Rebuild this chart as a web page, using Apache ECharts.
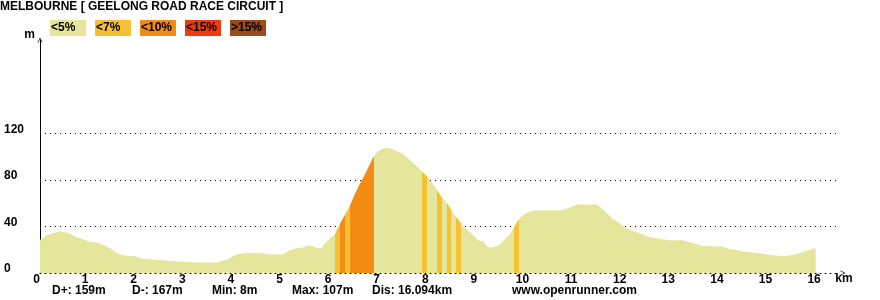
<!DOCTYPE html>
<html><head><meta charset="utf-8">
<script src="https://cdn.jsdelivr.net/npm/echarts@6/dist/echarts.min.js"></script>
<style>html,body{margin:0;padding:0;background:#fff}#c{width:880px;height:300px}</style>
</head><body><div id="c"></div>
<script>
const titleText = 'MELBOURNE [ GEELONG ROAD RACE CIRCUIT ]';
const legendLabels = ['<5%', '<7%', '<10%', '<15%', '>15%'];
const legendColors = ['#e5e59b', '#f5c133', '#f28c12', '#ee3a0e', '#9c4a1c'];
const distanceKm = [0,0.17,0.4,0.58,0.71,0.85,0.99,1.19,1.33,1.46,
  1.6,1.74,1.95,2.08,2.28,2.57,2.84,3.0,3.29,3.66,
  3.74,3.87,3.94,4.07,4.22,4.57,4.69,5.0,5.1,5.25,
  5.45,5.51,5.62,5.72,5.8,5.86,5.97,6.07,6.17,6.28,
  6.38,6.48,6.58,6.69,6.79,6.87,6.96,7.1,7.2,7.34,
  7.48,7.61,7.75,7.85,7.96,8.06,8.16,8.27,8.37,8.47,
  8.57,8.68,8.78,8.92,9.02,9.12,9.19,9.26,9.36,9.47,
  9.57,9.67,9.77,9.88,9.98,10.08,10.19,10.73,10.84,10.97,
  11.07,11.46,11.56,11.66,11.76,11.87,11.97,12.07,12.21,12.35,
  12.48,12.62,12.83,12.96,13.23,13.33,13.48,13.62,13.74,13.82,
  14.05,14.16,14.3,14.47,14.64,14.85,15.06,15.29,15.47,15.6,
  15.74,15.88,15.96];
const elevationM = [28,32.6,35.2,34.1,31.2,28.9,26.9,25.5,23.2,20.4,
  16.1,14.6,14,12,11.2,10.3,9.4,8.8,8.5,8.6,
  10,11.2,13.5,15.7,16.6,16.6,15.5,15.5,18.3,20.6,
  21.7,23.2,22.6,20.6,20.9,24.9,29.5,32.6,41.2,49.8,
  57,67,75.6,84.2,92.8,99.4,104.2,107.1,106.5,104.2,
  101.4,96.5,91.3,87,82.7,77,71.3,64.2,59.9,52.7,
  47,41.2,36.9,31.8,27.5,26.9,22.6,21.2,22.1,24,
  28.9,32.6,39.8,47,50.4,52.1,53.3,53.3,55,57,
  58.4,58.4,55,51.3,46.4,44.1,40.6,37.8,35.5,33.5,
  31.2,29.8,28.3,27.5,27.7,26.4,24.9,22.9,22.9,22.3,
  22.3,20.4,19.5,18,17.2,16.3,14.9,14,14.9,16.1,
  18.3,20,21.2];
// gradient bands (start km, end km, legend class index)
const bandStart = [6.07, 6.17, 6.28, 6.38, 7.85, 8.16, 8.37, 8.56, 9.75];
const bandEnd   = [6.17, 6.28, 6.38, 6.87, 7.96, 8.27, 8.46, 8.67, 9.86];
const bandClass = [1, 2, 1, 2, 1, 1, 1, 1, 1];
const gridLevels = [40, 80, 120];
const yLabelMax = 120;
const statsLabels = ['D+: 159m', 'D-: 167m', 'Min: 8m', 'Max: 107m', 'Dis: 16.094km', 'www.openrunner.com'];

const FONT = "'Liberation Sans', Arial, sans-serif";
const CHEVRON = 'path://M0,10L5,0L10,10L8.6,10L5,2.8L1.4,10Z';
const data = distanceKm.map((d, i) => [d, elevationM[i]]);
const pieces = bandStart.map((s, i) => ({gte: s, lt: bandEnd[i], color: legendColors[bandClass[i]]}));
const labelStyle = {fontFamily: FONT, fontSize: 12, fontWeight: 'bold', color: '#000'};

const graphic = [];
legendLabels.forEach((t, i) => {
  graphic.push({type: 'rect', left: 50 + 45 * i, top: 20, shape: {width: 36, height: 16}, style: {fill: legendColors[i]}});
  graphic.push({type: 'text', x: 51 + 45 * i, y: 28, style: {text: t, fill: '#000', font: 'bold 12px ' + FONT, align: 'left', verticalAlign: 'middle', textAlign: 'left', textVerticalAlign: 'middle'}});
});
statsLabels.forEach((t, i) => {
  const x = i < 5 ? 52 + 80 * i : 512;
  graphic.push({type: 'text', x: x, y: 291, style: {text: t, fill: '#000', font: 'bold 12px ' + FONT, align: 'left', verticalAlign: 'middle', textAlign: 'left', textVerticalAlign: 'middle'}});
});

const chart = echarts.init(document.getElementById('c'));
chart.setOption({
  animation: false,
  backgroundColor: '#fff',
  title: {text: titleText, left: 0, top: 1, padding: 0,
    textStyle: {fontFamily: FONT, fontSize: 12, fontWeight: 'bold', color: '#000', lineHeight: 12}},
  grid: {left: 40, right: 42, top: 40, bottom: 27, containLabel: false},
  xAxis: {
    type: 'value', min: 0, max: 16.42, interval: 1,
    axisLine: {show: true, onZero: true, lineStyle: {color: '#000', width: 1, type: [1, 4]},
      symbol: ['none', CHEVRON], symbolSize: [5, 7], symbolOffset: [0, 5]},
    axisTick: {show: false}, splitLine: {show: false},
    axisLabel: Object.assign({margin: 1, lineHeight: 11, verticalAlign: 'top', padding: [0, 7, 0, 0],
      formatter: v => Number.isInteger(v) ? String(v) : ''}, labelStyle),
    name: 'km', nameLocation: 'end', nameGap: 6,
    nameTextStyle: Object.assign({align: 'center', verticalAlign: 'top', lineHeight: 12}, labelStyle)
  },
  yAxis: {
    type: 'value', min: 0, max: 200, interval: 40,
    axisLine: {show: true, lineStyle: {color: '#000', width: 1}, symbol: ['none', CHEVRON], symbolSize: [5, 6]},
    axisTick: {show: false}, splitLine: {show: false},
    axisLabel: Object.assign({align: 'left', margin: 36, verticalAlign: 'bottom', lineHeight: 8,
      formatter: v => v <= yLabelMax ? String(v) : ''}, labelStyle),
    name: 'm', nameLocation: 'end', nameGap: 5,
    nameTextStyle: Object.assign({align: 'right', verticalAlign: 'middle', padding: [0, 5, 0, 0]}, labelStyle)
  },
  visualMap: {type: 'piecewise', show: false, dimension: 0, seriesIndex: 0, pieces: pieces,
    outOfRange: {color: legendColors[0]}},
  series: [{
    type: 'line', data: data, showSymbol: false, symbol: 'none', smooth: false,
    lineStyle: {width: 1}, areaStyle: {opacity: 1},
    markLine: {silent: true, z: 1, symbol: ['none', 'none'], label: {show: false},
      lineStyle: {color: '#000', width: 1, type: [1, 4]},
      emphasis: {disabled: true},
      data: gridLevels.map(v => ({yAxis: v}))}
  }],
  graphic: graphic
});
</script>
</body></html>
